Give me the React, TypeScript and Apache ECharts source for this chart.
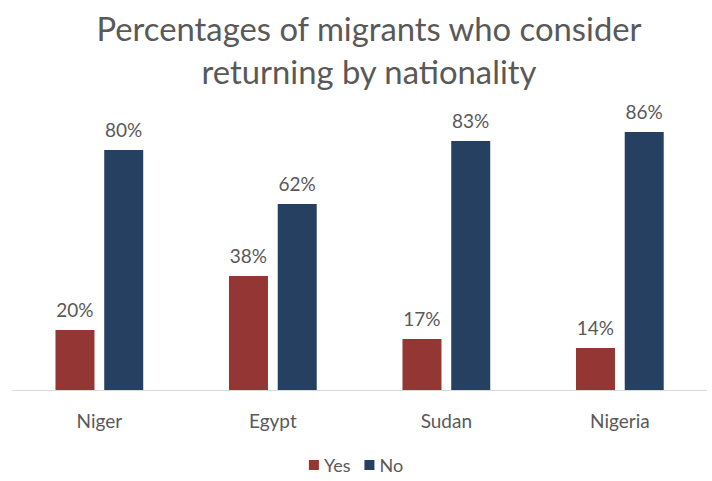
import React, { useEffect, useRef } from "react";
import * as echarts from "echarts";

const categories = ["Niger", "Egypt", "Sudan", "Nigeria"];
const yesValues = [20, 38, 17, 14];
const noValues = [80, 62, 83, 86];
const seriesNames = ["Yes", "No"];
const titleText = "Percentages of migrants who consider\nreturning by nationality";

const FONT = "Lato, 'Open Sans', sans-serif";
const TEXT_COLOR = "#595959";
const RED = "#943634";
const BLUE = "#254061";

export default function App() {
  const ref = useRef<HTMLDivElement>(null);
  useEffect(() => {
    if (!ref.current) return;
    const chart = echarts.init(ref.current, null, { renderer: "svg" });
    const label = {
      show: true,
      position: "top",
      distance: 11,
      formatter: "{c}%",
      color: TEXT_COLOR,
      fontSize: 19,
      fontFamily: FONT,
    };
    chart.setOption({
      animation: false,
      backgroundColor: "#ffffff",
      graphic: [
        {
          type: "text",
          x: 369,
          y: 7,
          silent: true,
          style: {
            text: titleText,
            x: 0,
            y: 0,
            align: "center",
            verticalAlign: "top",
            fill: TEXT_COLOR,
            fontSize: 32.8,
            fontWeight: "normal",
            fontFamily: FONT,
            lineHeight: 43,
          },
        },
      ],
      legend: {
        data: seriesNames,
        bottom: 2,
        left: "center",
        icon: "rect",
        itemWidth: 10,
        itemHeight: 10,
        itemGap: 14,
        textStyle: { color: TEXT_COLOR, fontSize: 18, fontFamily: FONT },
      },
      grid: { left: 12.6, right: 5.4, top: 90, bottom: 91, containLabel: false },
      xAxis: {
        type: "category",
        data: categories,
        axisLine: { show: true, lineStyle: { color: "#d9d9d9", width: 1 } },
        axisTick: { show: false },
        axisLabel: { color: TEXT_COLOR, fontSize: 19, fontFamily: FONT, margin: 21 },
      },
      yAxis: {
        type: "value",
        min: 0,
        max: 100,
        show: false,
        splitLine: { show: false },
      },
      series: [
        {
          name: seriesNames[0],
          type: "bar",
          data: yesValues,
          barWidth: 39,
          barGap: "25%",
          itemStyle: { color: RED },
          label,
        },
        {
          name: seriesNames[1],
          type: "bar",
          data: noValues,
          barWidth: 39,
          barGap: "25%",
          itemStyle: { color: BLUE },
          label,
        },
      ],
    });
    return () => chart.dispose();
  }, []);
  return (
    <div
      ref={ref}
      style={{ position: "fixed", left: 0, top: 0, width: 712, height: 481, background: "#fff" }}
    />
  );
}
